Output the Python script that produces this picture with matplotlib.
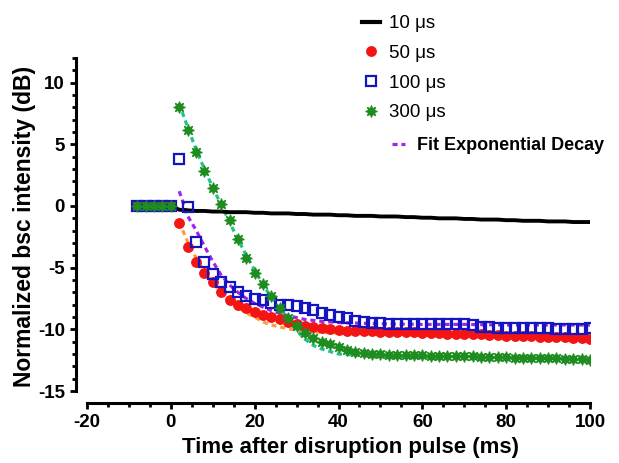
import matplotlib
matplotlib.use('Agg')
import matplotlib.pyplot as plt
from matplotlib.lines import Line2D
from matplotlib.ticker import MultipleLocator

plt.rcParams['font.family'] = ['Liberation Sans', 'DejaVu Sans']
plt.rcParams['axes.unicode_minus'] = False

# time grid of the measurements (ms)
t = [-8, -6, -4, -2, 0, 2, 4, 6, 8, 10, 12, 14, 16, 18, 20, 22, 24, 26, 28, 30,
     32, 34, 36, 38, 40, 42, 44, 46, 48, 50, 52, 54, 56, 58, 60, 62, 64, 66, 68, 70,
     72, 74, 76, 78, 80, 82, 84, 86, 88, 90, 92, 94, 96, 98, 100]

# 10 us (black line)
y10 = [0, 0, 0, 0, 0, -0.3, -0.35, -0.4, -0.4, -0.45, -0.45, -0.5, -0.5, -0.5, -0.55,
       -0.55, -0.6, -0.6, -0.6, -0.65, -0.65, -0.7, -0.7, -0.7, -0.75, -0.75, -0.8,
       -0.8, -0.8, -0.85, -0.85, -0.85, -0.9, -0.9, -0.95, -0.95, -1.0, -1.0, -1.0,
       -1.05, -1.05, -1.1, -1.1, -1.1, -1.15, -1.15, -1.2, -1.2, -1.2, -1.25, -1.25,
       -1.25, -1.3, -1.3, -1.3]
# 50 us (red circles)
y50 = [0, 0, 0, 0, 0, -1.4, -3.3, -4.5, -5.4, -6.2, -7.0, -7.6, -8.0, -8.3, -8.6,
       -8.8, -9.0, -9.2, -9.4, -9.55, -9.7, -9.8, -9.9, -10.0, -10.05, -10.1, -10.1,
       -10.15, -10.15, -10.2, -10.2, -10.2, -10.25, -10.25, -10.3, -10.3, -10.3,
       -10.35, -10.35, -10.4, -10.4, -10.4, -10.45, -10.45, -10.5, -10.5, -10.55,
       -10.55, -10.6, -10.6, -10.65, -10.65, -10.7, -10.7, -10.75]
# 100 us (blue squares)
y100 = [0, 0, 0, 0, 0, 3.8, -0.1, -2.9, -4.5, -5.5, -6.2, -6.6, -7.0, -7.3, -7.5,
        -7.65, -7.9, -8.0, -8.05, -8.1, -8.3, -8.45, -8.7, -8.8, -9.0, -9.1, -9.3,
        -9.4, -9.5, -9.5, -9.55, -9.55, -9.6, -9.6, -9.6, -9.6, -9.6, -9.6, -9.6,
        -9.6, -9.65, -9.85, -9.85, -9.9, -9.9, -9.9, -9.9, -9.9, -9.9, -9.9, -9.95,
        -10.0, -9.95, -9.95, -9.9]
# 300 us (green stars)
y300 = [0, 0, 0, 0, 0, 8.0, 6.2, 4.4, 2.85, 1.5, 0.2, -1.1, -2.7, -4.2, -5.4, -6.3,
        -7.3, -8.3, -9.1, -9.7, -10.3, -10.7, -11.0, -11.15, -11.4, -11.7, -11.85,
        -11.9, -12.0, -12.0, -12.05, -12.05, -12.1, -12.1, -12.1, -12.15, -12.15,
        -12.2, -12.2, -12.2, -12.2, -12.25, -12.25, -12.25, -12.25, -12.3, -12.3,
        -12.3, -12.35, -12.35, -12.35, -12.4, -12.4, -12.4, -12.45]

# exponential decay fits
fit50_t = [2, 3, 4, 5, 6, 8, 10, 12, 14, 16, 18, 20, 22, 24, 26, 28, 32, 36, 40, 50,
           60, 80, 100]
fit50_y = [-1.3, -2.1, -2.9, -3.6, -4.2, -5.3, -6.2, -7.0, -7.7, -8.2, -8.7, -9.0,
           -9.4, -9.65, -9.8, -9.95, -10.15, -10.25, -10.3, -10.35, -10.4, -10.4, -10.4]
fit100_t = [2, 3, 4, 6, 8, 10, 12, 14, 16, 18, 20, 24, 28, 32, 36, 40, 50, 60, 70,
            80, 90, 100]
fit100_y = [1.2, 0.2, -0.8, -1.95, -3.25, -4.5, -5.6, -6.4, -7.0, -7.5, -7.9, -8.5,
            -8.9, -9.2, -9.35, -9.45, -9.55, -9.6, -9.6, -9.65, -9.65, -9.65]
fit300_t = [2, 4, 6, 8, 10, 12, 14, 16, 18, 20, 22, 24, 26, 28, 30, 32, 34, 36, 38,
            40, 44, 50, 60, 80, 100]
fit300_y = [8.3, 6.4, 4.6, 3.0, 1.5, 0.1, -1.3, -2.7, -4.0, -5.2, -6.4, -7.4, -8.4,
            -9.3, -10.1, -10.8, -11.3, -11.6, -11.8, -12.0, -12.1, -12.2, -12.25,
            -12.3, -12.35]

labels = ['10 \u03bcs', '50 \u03bcs', '100 \u03bcs', '300 \u03bcs']

c_red = '#f51414'
c_blue = '#1414c0'
c_green = '#1e8c1e'
c_teal = '#1fc58c'
c_orange = '#ff9d3a'
c_purple = '#a224e8'

W, H = 619, 463
fig = plt.figure(figsize=(W / 100, H / 100), dpi=100)
ax = fig.add_axes([87 / W, 1 - 391 / H, (590 - 87) / W, (391 - 58) / H])

dash = dict(lw=2.3, dashes=(1.6, 1.2))
ax.plot(fit50_t, fit50_y, color=c_orange, zorder=2, **dash)
ax.plot(fit100_t, fit100_y, color=c_purple, zorder=2, **dash)
ax.plot(fit300_t, fit300_y, color=c_teal, zorder=2, **dash)

ax.plot(t, y10, color='black', lw=2.8, zorder=3)
ax.plot(t, y50, ls='none', marker='o', ms=6.8, color=c_red, mec=c_red, zorder=4)
ax.plot(t, y100, ls='none', marker='s', ms=6.5, mfc='none', mec=c_blue, mew=1.6, zorder=5)
ax.plot(t, y300, ls='none', marker=(8, 1, 0), ms=8.5, color=c_green, mec=c_green,
        mew=0.8, zorder=6)

ax.set_xlim(-20, 100)
ax.set_ylim(-15, 12)
for s in ['top', 'right']:
    ax.spines[s].set_visible(False)
ax.spines['left'].set_position(('outward', 8))
ax.spines['bottom'].set_position(('outward', 8.6))
ax.spines['left'].set_bounds(-15, 12)
ax.spines['bottom'].set_bounds(-20, 100)
for s in ['left', 'bottom']:
    ax.spines[s].set_linewidth(2.2)

ax.xaxis.set_major_locator(MultipleLocator(20))
ax.xaxis.set_minor_locator(MultipleLocator(5))
ax.yaxis.set_major_locator(MultipleLocator(5))
ax.yaxis.set_minor_locator(MultipleLocator(1))
ax.tick_params(which='major', length=4, width=2, labelsize=13.5, pad=4)
ax.tick_params(which='minor', length=3, width=2)
for lab in ax.get_xticklabels() + ax.get_yticklabels():
    lab.set_fontweight('bold')

ax.set_xlabel('Time after disruption pulse (ms)', fontsize=16, fontweight='bold')
ax.set_ylabel('Normalized bsc intensity (dB)', fontsize=16.5, fontweight='bold')
ax.xaxis.set_label_coords((350 - 87) / 503, -(448 - 391) / 333)
ax.yaxis.set_label_coords(-(87 - 24) / 503, (391 - 226) / 333)
ax.xaxis.label.set_va('center')
ax.yaxis.label.set_va('center')

handles = [
    Line2D([], [], color='black', lw=3),
    Line2D([], [], ls='none', marker='o', ms=6.8, color=c_red),
    Line2D([], [], ls='none', marker='s', ms=6.5, mfc='none', mec=c_blue, mew=1.6),
    Line2D([], [], ls='none', marker=(8, 1, 0), ms=8.5, color=c_green, mew=0.8),
]
leg1 = ax.legend(handles, labels, loc='upper left', frameon=False, fontsize=13.5,
                 bbox_to_anchor=(362 / W, 1 - 15 / H), bbox_transform=fig.transFigure,
                 borderpad=0, borderaxespad=0, handlelength=0.95, handletextpad=0.48,
                 labelspacing=0.67)
ax.add_artist(leg1)
fit_handle = Line2D([], [], color=c_purple, lw=2.3, dashes=(1.6, 1.2))
leg2 = ax.legend([fit_handle], ['Fit Exponential Decay'], loc='upper left', frameon=False,
                 bbox_to_anchor=(392 / W, 1 - 137 / H), bbox_transform=fig.transFigure,
                 borderpad=0, borderaxespad=0, handlelength=0.72, handletextpad=0.66,
                 prop={'size': 13, 'weight': 'bold'})

fig.savefig('out.png', dpi=100)
